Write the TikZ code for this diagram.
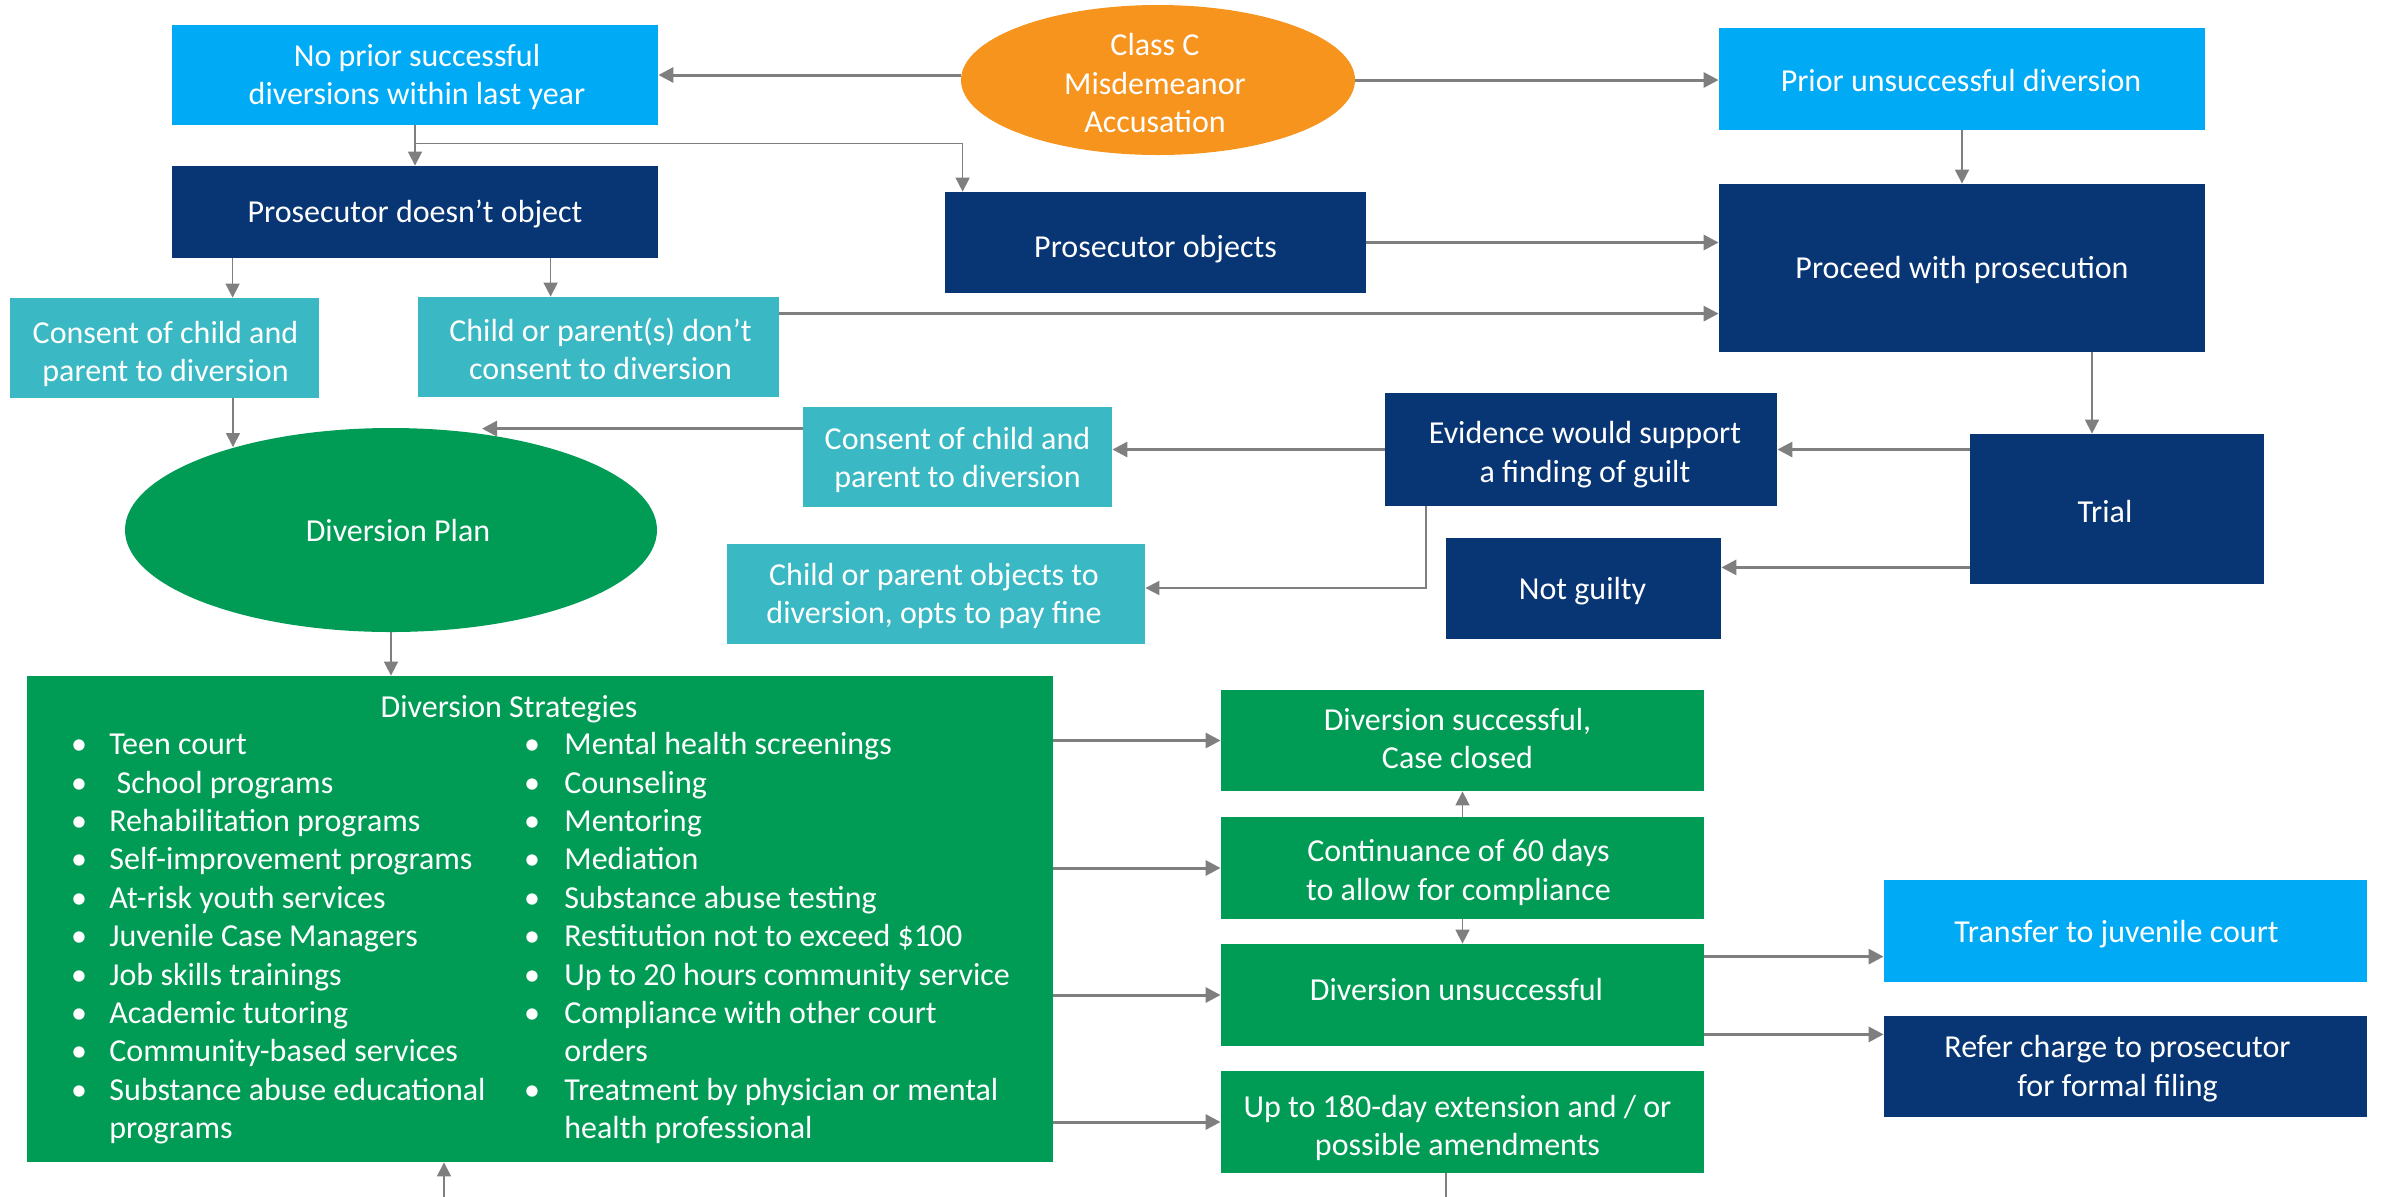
\documentclass[tikz,border=0pt]{standalone}
\usepackage{fontspec}
\setmainfont{Carlito}
\usetikzlibrary{arrows.meta,shapes.geometric,calc}
\definecolor{lblue}{HTML}{00AAF4}
\definecolor{navy}{HTML}{083574}
\definecolor{tealc}{HTML}{3AB8C4}
\definecolor{dgreen}{HTML}{009C55}
\definecolor{orangec}{HTML}{F7941E}
\definecolor{arrowgray}{HTML}{7F7F7F}
\newcommand{\fsz}{\fontsize{16pt}{19.3pt}\selectfont}
% box: name, colour, cx, cy, width(pt), height(pt), text dx, text dy, text
\newcommand{\bx}[9]{%
  \node[box, fill=#2, minimum width=#5pt, minimum height=#6pt] (#1) at (#3,#4) {};
  \node[txt] (#1t) at ($(#1)+(#7,#8)$) {#9};}
\begin{document}
\begin{tikzpicture}[x=0.5pt,y=-0.5pt,
  box/.style={rectangle, inner sep=0pt},
  oval/.style={ellipse, inner sep=0pt},
  txt/.style={inner sep=0pt, text=white, align=center, font=\fsz},
  item/.style={inner sep=0pt, text=white, anchor=mid west, font=\fsz},
  bul/.style={inner sep=0pt, text=white, anchor=mid, font=\fsz},
  thk/.style={draw=arrowgray, line width=1.5pt, -{Triangle[length=7.5pt,width=7.5pt]}},
  thn/.style={draw=arrowgray, line width=0.8pt, -{Triangle[length=7pt,width=7pt]}},
  med/.style={draw=arrowgray, line width=1pt, -{Triangle[length=7pt,width=7pt]}}]
\clip (0,0) rectangle (2382,1196);
\fill[white] (0,0) rectangle (2382,1196);

% nodes
\bx{noprior}{lblue}{415}{75}{243}{50}{2}{2}{No prior successful\\diversions within last year}
\node[oval, fill=orangec, minimum width=197pt, minimum height=75pt] (classc) at (1158,80) {};
\node[txt] (classct) at ($(classc)+(-3,3)$) {Class C\\Misdemeanor\\Accusation};
\bx{prior}{lblue}{1962}{79}{243}{51}{-1}{1.5}{Prior unsuccessful diversion}
\bx{prosnot}{navy}{415}{212}{243}{46}{0}{1.5}{Prosecutor doesn’t object}
\bx{prosobj}{navy}{1155.5}{242.5}{210.5}{50.5}{0}{7}{Prosecutor objects}
\bx{proceed}{navy}{1962}{268}{243}{84}{0}{1.5}{Proceed with prosecution}
\bx{consent1}{tealc}{164.5}{348}{154.5}{50}{1}{6}{Consent of child and\\parent to diversion}
\bx{childno}{tealc}{598.5}{347}{180.5}{50}{2}{2}{Child or parent(s) don’t\\consent to diversion}
\bx{consent2}{tealc}{957.5}{457}{154.5}{50}{0}{3}{Consent of child and\\parent to diversion}
\bx{evidence}{navy}{1581}{449.5}{196}{56.5}{4}{5}{Evidence would support\\a finding of guilt}
\bx{trial}{navy}{2117}{509}{147}{75}{-12}{2}{Trial}
\bx{childobj}{tealc}{936}{594}{209}{50}{-2}{2}{Child or parent objects to\\diversion, opts to pay fine}
\bx{notguilty}{navy}{1583.5}{588.5}{137.5}{50.5}{-1}{3}{Not guilty}
\node[oval, fill=dgreen, minimum width=266pt, minimum height=102pt] (plan) at (391,530) {};
\node[txt] (plant) at ($(plan)+(7,0)$) {Diversion Plan};
\node[box, fill=dgreen, minimum width=513pt, minimum height=243pt] (strat) at (540,919) {};
\bx{success}{dgreen}{1462.5}{740.5}{241.5}{50.5}{-5}{-2}{Diversion successful,\\Case closed}
\bx{cont}{dgreen}{1462.5}{868}{241.5}{51}{-4}{4.5}{Continuance of 60 days\\to allow for compliance}
\bx{unsucc}{dgreen}{1462.5}{995}{241.5}{51}{-6}{-6}{Diversion unsuccessful}
\bx{ext}{dgreen}{1462.5}{1122}{241.5}{51}{-5}{6}{Up to 180-day extension and / or\\possible amendments}
\bx{transfer}{lblue}{2125.5}{931}{241.5}{51}{-9}{3}{Transfer to juvenile court}
\bx{refer}{navy}{2125.5}{1066.5}{241.5}{50.5}{-8}{2}{Refer charge to prosecutor\\for formal filing}

% strategies content
\node[txt] (strattitle) at (509,709) {Diversion Strategies};
\foreach \t [count=\i from 0] in {Teen court,{\ School programs},Rehabilitation programs,Self-improvement programs,At-risk youth services,Juvenile Case Managers,Job skills trainings,Academic tutoring,Community-based services,Substance abuse educational,programs}
  \node[item] (l\i) at (109,750+38.4*\i) {\t};
\foreach \i in {0,...,9}
  \node[bul] (lb\i) at (79,750+38.4*\i) {\textbullet};
\foreach \t [count=\i from 0] in {Mental health screenings,Counseling,Mentoring,Mediation,Substance abuse testing,Restitution not to exceed \$100,Up to 20 hours community service,Compliance with other court,orders,Treatment by physician or mental,health professional}
  \node[item] (r\i) at (564,750+38.4*\i) {\t};
\foreach \i in {0,...,7,9}
  \node[bul] (rb\i) at (532,750+38.4*\i) {\textbullet};

% connectors
\draw[thk] (noprior.east -| classc.west) -- (noprior.east);
\draw[thk] (classc.east) -- (classc.east -| prior.west);
\draw[thn] (noprior.south) -- (prosnot.north);
\coordinate (br) at ($(noprior.south)!0.45!(prosnot.north)$);
\coordinate (po) at ($(prosobj.north west)+(18,0)$);
\draw[thn] (br) -| (po);
\coordinate (a1) at ($(prosnot.south west)+(61,0)$);
\coordinate (a2) at ($(prosnot.south west)+(379,0)$);
\draw[thn] (a1) -- (a1 |- consent1.north);
\draw[thn] (a2) -- (a2 |- childno.north);
\coordinate (cn) at ($(childno.north east)+(0,17)$);
\draw[thk] (cn) -- (cn -| proceed.west);
\draw[thk] (prosobj.east) -- (prosobj.east -| proceed.west);
\draw[thn] (prior.south) -- (proceed.north);
\coordinate (tp) at ($(trial.north)+(-25,0)$);
\draw[thn] (tp |- proceed.south) -- (tp);
\draw[thk] (evidence.east -| trial.west) -- (evidence.east);
\coordinate (tn) at ($(trial.south west)+(0,-17)$);
\draw[thk] (tn) -- (tn -| notguilty.east);
\draw[thk] (evidence.west) -- (evidence.west -| consent2.east);
\coordinate (ev) at ($(evidence.south west)+(41,0)$);
\draw[med] (ev) |- ($(childobj.east)+(0,-6)$);
\coordinate (c2) at ($(consent2.north west)+(0,22)$);
\coordinate (pt) at ($(plan.north)+(91,0)$);
\draw[thk] (c2) -- (c2 -| pt);
\coordinate (c1) at ($(consent1.south)+(68.5,0)$);
\draw[thn] (c1) -- (c1 |- plan.152.6);
\draw[thn] (plan.south) -- (plan.south |- strat.north);
\draw[thk] (success.west -| strat.east) -- (success.west);
\draw[thk] (cont.west -| strat.east) -- (cont.west);
\draw[thk] (unsucc.west -| strat.east) -- (unsucc.west);
\draw[thk] (ext.west -| strat.east) -- (ext.west);
\draw[thn] (cont.north) -- (success.south);
\draw[thn] (cont.south) -- (unsucc.north);
\coordinate (ut) at ($(unsucc.north east)+(0,13)$);
\draw[thk] (ut) -- (ut -| transfer.west);
\coordinate (ur) at ($(unsucc.south east)+(0,-12)$);
\draw[thk] (ur) -- (ur -| refer.west);
\coordinate (ex) at ($(ext.south)+(-16.5,0)$);
\coordinate (sb) at ($(strat.south)+(-96,0)$);
\draw[thn] (ex) -- ++(0,80) -| (sb);
\end{tikzpicture}
\end{document}
